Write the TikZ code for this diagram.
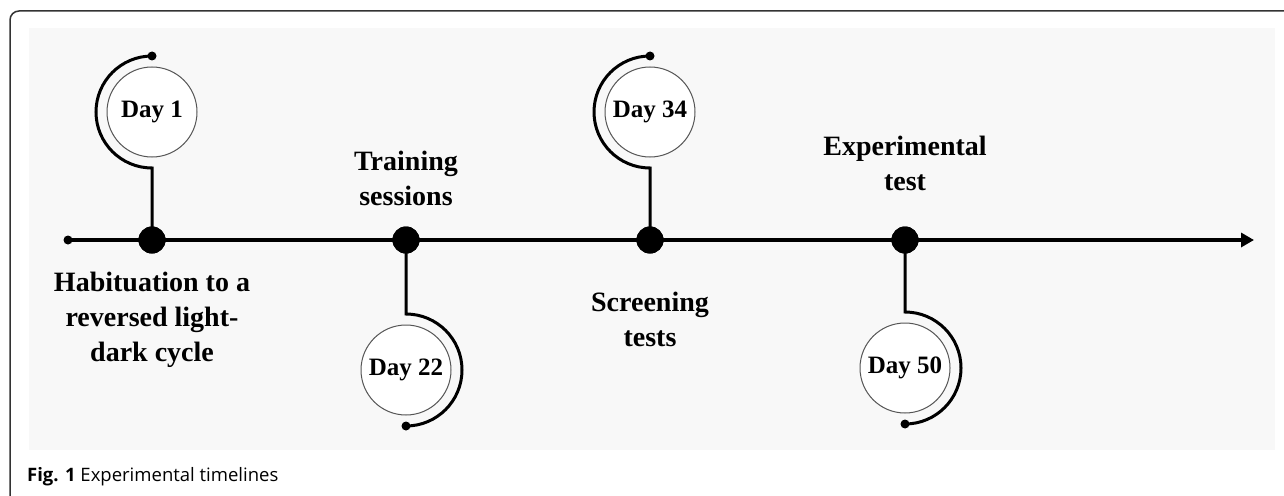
\documentclass[tikz,border=0pt]{standalone}
\usepackage{fontspec}
\setmainfont{Liberation Serif}
\setsansfont{Open Sans}
\usetikzlibrary{arrows.meta,calc}
\definecolor{bgpanel}{HTML}{F8F8F8}
\definecolor{framecol}{HTML}{333333}
\definecolor{ringcol}{HTML}{555555}
\begin{document}
\begin{tikzpicture}[x=1pt,y=1pt,
 conn/.style={line width=3pt,black},
 bigdot/.style={circle,fill=black,minimum size=27pt,inner sep=0pt},
 enddot/.style={circle,fill=black,minimum size=9pt,inner sep=0pt},
 daycirc/.style={circle,draw=ringcol,line width=1pt,fill=white,minimum size=90pt,inner sep=0pt,font=\fontsize{25}{30}\selectfont\bfseries},
 lbl/.style={align=center,font=\fontsize{28}{35}\selectfont\bfseries}]
\useasboundingbox (0,0) rectangle (1284,-495);
\clip (0,0) rectangle (1284,-495);
\fill[bgpanel] (29,-28) rectangle (1275,-450);
\draw[framecol,line width=1.5pt,rounded corners=9pt] (30,-505) -- (10,-505) -- (10,-11) -- (1300,-11);
% timeline
\node[enddot] (t0) at (68,-240) {};
\coordinate (tend) at (1254,-240);
\draw[line width=3.5pt,-{Triangle[length=13pt,width=14pt]}] (t0.center) -- (tend);
% day circles
\node[daycirc] (c1) at (152,-112) {Day 1};
\node[daycirc] (c2) at (406,-370) {Day 22};
\node[daycirc] (c3) at (650,-112) {Day 34};
\node[daycirc] (c4) at (905,-368) {Day 50};
% connectors
\coordinate (a1) at (152,-168);
\coordinate (a2) at (406,-314);
\coordinate (a3) at (650,-168);
\coordinate (a4) at (905,-312);
\node[bigdot] (d1) at (152,-240) {};
\node[bigdot] (d2) at (406,-240) {};
\node[bigdot] (d3) at (650,-240) {};
\node[bigdot] (d4) at (905,-240) {};
\draw[conn] (d1.center) -- (a1) arc[start angle=270,end angle=90,radius=56];
\draw[conn] (d2.center) -- (a2) arc[start angle=90,end angle=-90,radius=56];
\draw[conn] (d3.center) -- (a3) arc[start angle=270,end angle=90,radius=56];
\draw[conn] (d4.center) -- (a4) arc[start angle=90,end angle=-90,radius=56];
\node[bigdot] at (d1) {};
\node[bigdot] at (d2) {};
\node[bigdot] at (d3) {};
\node[bigdot] at (d4) {};
\node[enddot] (e1) at (152,-56) {};
\node[enddot] (e2) at (406,-426) {};
\node[enddot] (e3) at (650,-56) {};
\node[enddot] (e4) at (905,-424) {};
% labels
\node[lbl] (l1) at (152,-320) {Habituation to a\\reversed light-\\dark cycle};
\node[lbl] (l2) at (406,-178) {Training\\sessions};
\node[lbl] (l3) at (650,-319) {Screening\\tests};
\node[lbl] (l4) at (905,-163) {Experimental\\test};
% caption
\node[anchor=west,inner sep=0pt,font=\sffamily\fontsize{18.5}{22}\selectfont] (cap) at (27,-477) {\textbf{Fig. 1} Experimental timelines};
\end{tikzpicture}
\end{document}
